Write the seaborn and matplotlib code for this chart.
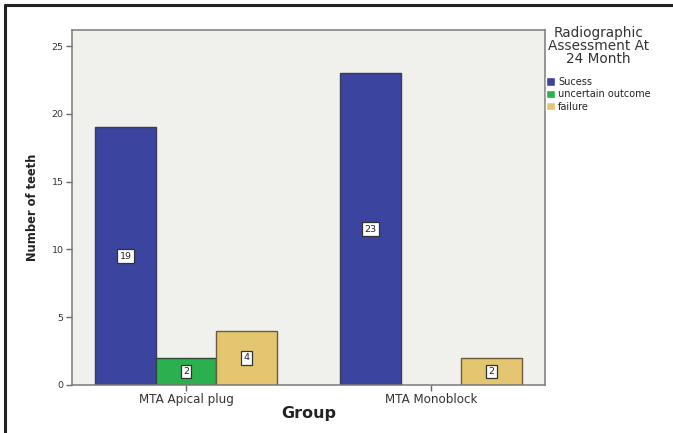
import matplotlib
matplotlib.use("Agg")
import matplotlib.pyplot as plt
from matplotlib.lines import Line2D
import seaborn as sns
import pandas as pd

# Counts of teeth per treatment group and radiographic outcome at 24 months
groups = ["MTA Apical plug", "MTA Monoblock"]
outcomes = ["Sucess", "uncertain outcome", "failure"]
apical_plug_counts = [19, 2, 4]
monoblock_counts = [23, 0, 2]

bar_colors = ["#3b449f", "#2bb04f", "#e3c66f"]
edge_colors = ["#3a3c55", "#2f4a37", "#6e5b3a"]

rows = []
for group, counts in zip(groups, [apical_plug_counts, monoblock_counts]):
    for outcome, n in zip(outcomes, counts):
        if n > 0:
            rows.append({"Group": group, "Outcome": outcome, "Count": n})
df = pd.DataFrame(rows)

sns.set_style("white")
plt.rcParams["font.family"] = ["DejaVu Sans"]

fig = plt.figure(figsize=(6.73, 4.33), dpi=100)
ax = fig.add_axes([0.107, 0.111, 0.703, 0.820])
ax.set_facecolor("#f0f0ec")

sns.barplot(data=df, x="Group", y="Count", hue="Outcome", order=groups,
            hue_order=outcomes, palette=bar_colors, saturation=1, width=0.74,
            linewidth=1.0, ax=ax)

for cont, ec in zip(ax.containers, edge_colors):
    for bar in cont:
        bar.set_edgecolor(ec)
    ax.bar_label(cont, fmt="%d", label_type="center", fontsize=6.8, color="#222222",
                 bbox=dict(boxstyle="square,pad=0.25", fc="white", ec="#333333", lw=0.9))

ax.set_ylim(0, 26.2)
ax.set_xlim(-0.465, 1.465)
ax.set_yticks([0, 5, 10, 15, 20, 25])

for side in ["left", "bottom", "top", "right"]:
    ax.spines[side].set_color("#7a7a7a")
    ax.spines[side].set_linewidth(1.1)

ax.tick_params(axis="both", which="both", direction="out", length=4, width=1,
               color="#6a6a6a", labelcolor="#333333", pad=2,
               left=True, bottom=True)
ax.tick_params(axis="y", labelsize=6.8)
ax.tick_params(axis="x", labelsize=8.6)

ax.set_xlabel("Group", fontsize=11.5, fontweight="bold", color="#222222", labelpad=0)
ax.set_ylabel("Number of teeth", fontsize=8.3, fontweight="bold", color="#222222", labelpad=9)

leg = ax.legend(title="Radiographic\nAssessment At\n24 Month", loc="upper left",
                bbox_to_anchor=(1.0, 1.013), frameon=False, fontsize=7.0,
                title_fontsize=9.8, handlelength=0.95, handleheight=0.95,
                handletextpad=0.3, labelspacing=0.25, borderpad=0.1,
                borderaxespad=0.0)
leg._legend_box.sep = 8
leg.get_title().set_multialignment("center")
leg.get_title().set_color("#333333")
leg.get_title().set_linespacing(0.88)
for text in leg.get_texts():
    text.set_color("#222222")

# page frame along the top and left edges
fig.add_artist(Line2D([0.008, 1.0], [0.989, 0.989], transform=fig.transFigure,
                      color="#222222", lw=2.2))
fig.add_artist(Line2D([0.008, 0.008], [0.0, 0.989], transform=fig.transFigure,
                      color="#222222", lw=2.2))

fig.savefig("out.png", dpi=100)
